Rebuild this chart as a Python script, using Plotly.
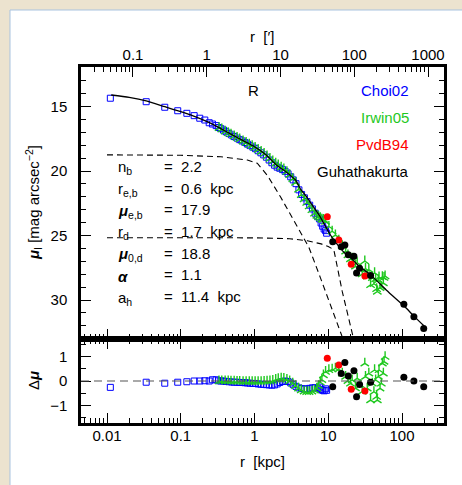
import plotly.graph_objects as go

# ---------------- data ----------------
model_r = [0.0114, 0.02, 0.034, 0.061, 0.1, 0.15, 0.228, 0.35, 0.5, 0.7, 1.0, 1.4, 2.0, 2.5, 3.0, 3.6,
           4.2, 5.0, 6.0, 7.5, 9.0, 10.7, 13.5, 16.3, 19.0, 22.0, 26.6, 37.5, 66.0, 106.0, 145.0, 198.0]
model_mu = [14.11, 14.3, 14.57, 15.02, 15.4, 15.75, 16.18, 16.72, 17.2, 17.65, 18.12, 18.7, 19.55, 19.95, 20.3, 20.7,
            21.4, 21.95, 22.6, 23.4, 24.2, 24.96, 25.75, 26.3, 26.6, 26.95, 27.4, 28.05, 29.4, 30.45, 31.25, 32.0]

disk_r = [0.01, 0.1, 0.35, 0.8, 1.09, 1.5, 2.25, 3.6, 5.45, 7.86, 11.0, 13.5, 15.8]
disk_mu = [18.75, 18.78, 18.9, 19.15, 19.4, 20.35, 22.0, 24.05, 25.9, 28.3, 30.6, 31.9, 33.0]

halo_r = [0.01, 1.0, 3.0, 5.2, 8.0, 10.0, 11.9, 15.5, 21.2, 22.0]
halo_mu = [25.17, 25.18, 25.25, 25.4, 25.65, 25.85, 26.1, 29.35, 32.6, 33.0]

choi_r = [0.0111, 0.034, 0.0607, 0.091, 0.121, 0.152, 0.181, 0.212, 0.243, 0.269, 0.302, 0.327,
          0.35, 0.38, 0.41, 0.45, 0.49, 0.53, 0.58, 0.63, 0.68, 0.74, 0.8, 0.87, 0.95, 1.03, 1.12, 1.22,
          1.33, 1.45, 1.58, 1.72, 1.87, 2.03, 2.2, 2.4, 2.6, 2.85, 3.1, 3.35, 3.65, 4.0, 4.35, 4.75,
          5.15, 5.6, 6.1, 6.65, 7.2, 7.6, 8.0, 8.4, 8.8, 9.2, 9.5]
choi_mu = [14.36, 14.63, 15.06, 15.33, 15.53, 15.71, 15.91, 16.05, 16.26, 16.36, 16.48, 16.63,
           16.72, 16.83, 16.95, 17.09, 17.21, 17.33, 17.45, 17.57, 17.67, 17.79, 17.91, 18.03, 18.15, 18.27, 18.43, 18.59,
           18.75, 18.93, 19.15, 19.36, 19.55, 19.70, 19.79, 19.89, 20.03, 20.22, 20.45, 20.69, 20.98, 21.46, 21.82, 22.08,
           22.37, 22.65, 22.94, 23.27, 23.54, 23.71, 24.03, 24.28, 24.5, 24.62, 24.82]
choi_dmu = [-0.26, -0.05, -0.09, -0.05, -0.03, 0.0, 0.0, 0.01, 0.0, 0.05, 0.05, 0.01,
            0.0, 0.0, -0.02, -0.03, -0.04, -0.05, -0.05, -0.06, -0.06, -0.07, -0.08, -0.09, -0.1, -0.1, -0.12, -0.13,
            -0.14, -0.15, -0.16, -0.17, -0.16, -0.12, -0.06, -0.02, 0.0, -0.02, -0.08, -0.15, -0.22, -0.28, -0.31, -0.33,
            -0.32, -0.3, -0.28, -0.27, -0.3, -0.25, -0.35, -0.38, -0.4, -0.32, -0.38]

irwin_r = [0.33, 0.36, 0.4, 0.44, 0.48, 0.53, 0.58, 0.63, 0.7, 0.77, 0.85, 0.93, 1.02, 1.12, 1.23, 1.35,
           1.48, 1.62, 1.77, 1.94, 2.1, 2.3, 2.5, 2.75, 3.0, 3.3, 3.6, 3.95, 4.3, 4.7, 5.1, 5.5, 6.0, 6.5,
           7.0, 7.4, 7.8, 8.2,
           8.6, 9.2, 10.2, 11.3, 12.5, 13.9, 15.5, 17.2, 18.5, 20.0, 21.1, 23.4, 24.7, 27.4, 28.9, 31.3,
           32.0, 33.8, 35.5, 37.5, 39.6, 41.6, 42.5, 43.9, 45.3, 46.3, 47.8, 48.8, 50.4, 52.5, 54.2, 55.9,
           57.1, 59.0]
irwin_mu = [16.65, 16.76, 16.92, 17.05, 17.15, 17.29, 17.42, 17.53, 17.68, 17.8, 17.93, 18.05, 18.18, 18.34, 18.5, 18.66,
            18.84, 19.04, 19.24, 19.41, 19.55, 19.71, 19.85, 20.07, 20.3, 20.61, 20.9, 21.43, 21.85, 22.17, 22.46, 22.73, 23.02, 23.29,
            23.45, 23.55, 23.63, 23.75,
            23.76, 23.92, 24.3, 24.67, 24.97, 25.37, 25.81, 26.23, 26.51, 26.82, 26.76, 27.39, 27.11, 27.62, 27.99, 26.99,
            27.57, 28.16, 27.64, 28.83, 28.28, 28.74, 27.9, 28.38, 29.14, 29.34, 28.45, 28.23, 29.06, 28.96, 28.21, 28.69,
            28.27, 28.15]
irwin_dmu = [0.0, 0.0, 0.0, 0.0, -0.01, -0.01, -0.02, -0.02, -0.03, -0.03, -0.03, -0.03, -0.03, -0.03, -0.03, -0.02,
             -0.01, 0.0, 0.02, 0.06, 0.09, 0.11, 0.1, 0.06, 0.0, -0.1, -0.2, -0.3, -0.37, -0.42, -0.44, -0.44, -0.42, -0.38,
             -0.3, -0.2, -0.05, 0.05,
             0.24, 0.38, 0.45, 0.48, 0.52, 0.48, 0.31, 0.18, 0.01, -0.1, 0.04, -0.29, 0.11, -0.16, -0.43, 0.72,
             0.18, -0.3, 0.31, -0.78, -0.1, -0.44, 0.45, 0.04, -0.64, -0.78, 0.18, 0.45, -0.3, -0.1, 0.72, 0.31,
             0.79, 0.99]

pvdb_r = [9.7, 13.9, 20.5, 31.4]
pvdb_mu = [23.54, 25.35, 27.23, 28.14]
pvdb_dmu = [0.93, 0.65, -0.34, -0.41]

guha_r = [11.5, 15.0, 16.8, 18.7, 22.3, 24.2, 26.6, 37.5, 106.0, 145.0, 197.0]
guha_mu = [25.48, 25.87, 25.74, 26.5, 26.6, 27.9, 27.54, 28.1, 30.33, 31.3, 32.2]
guha_dmu = [-0.23, 0.31, 0.75, 0.2, 0.42, -0.64, -0.14, -0.05, 0.15, 0.0, -0.23]

kpc_ticks = [0.01, 0.1, 1, 10, 100]
kpc_labels = ["0.01", "0.1", "1", "10", "100"]
arcmin_ticks = [0.1, 1, 10, 100, 1000]
arcmin_labels = ["0.1", "1", "10", "100", "1000"]
mu_ticks = [15, 20, 25, 30]
dmu_ticks = [-1, 0, 1]
dmu_labels = ["\u22121", "0", "1"]

param_labels = ["n<sub>b</sub>", "r<sub>e,b</sub>", "<b><i>\u03bc</i></b><sub>e,b</sub>", "r<sub>d</sub>",
                "<b><i>\u03bc</i></b><sub>0,d</sub>", "<b><i>\u03b1</i></b>", "a<sub>h</sub>"]
param_values = ["=  2.2", "=  0.6  kpc", "=  17.9", "=  1.7  kpc", "=  18.8", "=  1.1", "=  11.4  kpc"]
legend_names = ["Choi02", "Irwin05", "PvdB94", "Guhathakurta"]
legend_colors = ["#0000ff", "#1ec81e", "#ff0000", "#000000"]

# ---------------- geometry helpers ----------------
W, H = 462, 485
L, R, T, B = 81, 444, 67, 423
PW, PH = R - L, B - T
SPLIT = 339


def px(x):
    return (x - L) / PW


def py(y):
    return (B - y) / PH


FONT = "Liberation Sans"
BLUE, GREEN, RED = "#0000ff", "#1ec81e", "#ff0000"

fig = go.Figure()

# model components
fig.add_trace(go.Scatter(x=disk_r, y=disk_mu, mode="lines", line=dict(color="black", width=1.1, dash="6px,4px"),
                         xaxis="x", yaxis="y", hoverinfo="skip"))
fig.add_trace(go.Scatter(x=halo_r, y=halo_mu, mode="lines", line=dict(color="black", width=1.1, dash="6px,4px"),
                         xaxis="x", yaxis="y", hoverinfo="skip"))

# data main panel
fig.add_trace(go.Scatter(x=choi_r, y=choi_mu, mode="markers",
                         marker=dict(symbol="square-open", size=6, color=BLUE, line=dict(color=BLUE, width=1)),
                         xaxis="x", yaxis="y"))
fig.add_trace(go.Scatter(x=irwin_r, y=irwin_mu, mode="markers",
                         marker=dict(symbol="y-up", size=7, color=GREEN, line=dict(color=GREEN, width=1.4)),
                         xaxis="x", yaxis="y"))
fig.add_trace(go.Scatter(x=model_r, y=model_mu, mode="lines", line=dict(color="black", width=1.3, shape="spline", smoothing=0.6),
                         xaxis="x", yaxis="y"))
fig.add_trace(go.Scatter(x=pvdb_r, y=pvdb_mu, mode="markers", marker=dict(symbol="circle", size=7, color=RED),
                         xaxis="x", yaxis="y"))
fig.add_trace(go.Scatter(x=guha_r, y=guha_mu, mode="markers", marker=dict(symbol="circle", size=7, color="black"),
                         xaxis="x", yaxis="y"))

# residual panel
fig.add_trace(go.Scatter(x=choi_r, y=choi_dmu, mode="markers",
                         marker=dict(symbol="square-open", size=6, color=BLUE, line=dict(color=BLUE, width=1)),
                         xaxis="x2", yaxis="y2"))
fig.add_trace(go.Scatter(x=irwin_r, y=irwin_dmu, mode="markers",
                         marker=dict(symbol="y-up", size=7, color=GREEN, line=dict(color=GREEN, width=1.4)),
                         xaxis="x2", yaxis="y2"))
fig.add_trace(go.Scatter(x=pvdb_r, y=pvdb_dmu, mode="markers", marker=dict(symbol="circle", size=7, color=RED),
                         xaxis="x2", yaxis="y2"))
fig.add_trace(go.Scatter(x=guha_r, y=guha_dmu, mode="markers", marker=dict(symbol="circle", size=7, color="black"),
                         xaxis="x2", yaxis="y2"))

# top axis holder
fig.add_trace(go.Scatter(x=[None], y=[None], xaxis="x3", yaxis="y", hoverinfo="skip"))


def minor_log(lo_exp, hi_exp):
    vals = []
    for e in range(lo_exp, hi_exp + 1):
        for m in range(2, 10):
            vals.append(m * 10 ** e)
    return vals


axis_common = dict(showgrid=False, zeroline=False, showline=True, linecolor="black", linewidth=2.5,
                   ticks="inside", ticklen=10, tickwidth=1.3, tickcolor="black",
                   tickfont=dict(family=FONT, size=15, color="black"))

xr = [-2.3525, 2.5695]
fig.update_layout(
    width=W, height=H,
    margin=dict(l=L, r=W - R, t=T, b=H - B),
    paper_bgcolor="#ece3cf", plot_bgcolor="white",
    showlegend=False,
    xaxis=dict(type="log", range=xr, anchor="y", tickvals=kpc_ticks, showticklabels=False, mirror=False,
               minor=dict(tickvals=minor_log(-3, 2), ticks="inside", ticklen=5, tickwidth=1.1, tickcolor="black"),
               **axis_common),
    xaxis2=dict(type="log", range=xr, anchor="y2", tickvals=kpc_ticks, ticktext=kpc_labels, mirror="ticks",
                ticklabelstandoff=-3,
                minor=dict(tickvals=minor_log(-3, 2), ticks="inside", ticklen=5, tickwidth=1.1, tickcolor="black"),
                **axis_common),
    xaxis3=dict(type="log", range=[-1.705, 3.217], overlaying="x", side="top", anchor="y",
                tickvals=arcmin_ticks, ticktext=arcmin_labels, ticklabelstandoff=-2,
                minor=dict(tickvals=minor_log(-2, 3), ticks="inside", ticklen=5, tickwidth=1.1, tickcolor="black"),
                **axis_common),
    yaxis=dict(domain=[(B - SPLIT) / PH, 1], range=[33.02, 11.94], anchor="x", tickvals=mu_ticks, mirror="ticks",
               ticklabelstandoff=8,
               minor=dict(tickvals=list(range(12, 34)), ticks="inside", ticklen=5, tickwidth=1.1, tickcolor="black"),
               **axis_common),
    yaxis2=dict(domain=[0, (B - SPLIT) / PH], range=[-1.714, 1.714], anchor="x2", tickvals=dmu_ticks,
                ticktext=dmu_labels, mirror="ticks", ticklabelstandoff=8,
                minor=dict(tickvals=[-1.5, -0.5, 0.5, 1.5], ticks="inside", ticklen=5, tickwidth=1.1, tickcolor="black"),
                **axis_common),
)

# white panel background with light-blue edge
fig.add_shape(type="rect", xref="paper", yref="paper", x0=px(10), x1=px(475), y0=py(500), y1=py(10),
              fillcolor="white", line=dict(color="#a9c3e0", width=1), layer="below")

# zero line in residual panel
fig.add_shape(type="line", xref="x2 domain", yref="y2", x0=0, x1=1, y0=0, y1=0,
              line=dict(color="#555555", width=1.2, dash="8px,5px"))

ann = []


def text(x, y, s, color="black", size=15, xanchor="center", angle=0):
    ann.append(dict(x=px(x), y=py(y), xref="paper", yref="paper", text=s, showarrow=False,
                    xanchor=xanchor, yanchor="middle", textangle=angle,
                    font=dict(family=FONT, size=size, color=color)))


text(262, 36, "r  [\u2032]")
text(262, 461, "r  [kpc]")
text(33, 203, "<b><i>\u03bc</i></b><sub>I</sub> [mag arcsec<sup>\u22122</sup>]", angle=-90)
text(33, 381, "\u0394<b><i>\u03bc</i></b>", angle=-90)
text(253, 90, "R")

leg_y = [90, 117, 144, 171.5]
for name, col, yy in zip(legend_names, legend_colors, leg_y):
    text(411, yy, name, color=col, xanchor="right")

row_y = [166, 188, 209.5, 231, 253, 274.7, 296.7]
for lab, val, yy in zip(param_labels, param_values, row_y):
    text(116, yy + 1.5, lab, xanchor="left")
    text(162, yy, val, xanchor="left")

fig.update_layout(annotations=ann)

fig.write_html("out.html", config={"displayModeBar": False},
               post_script="document.body.style.margin='0';document.body.style.overflow='hidden';")
